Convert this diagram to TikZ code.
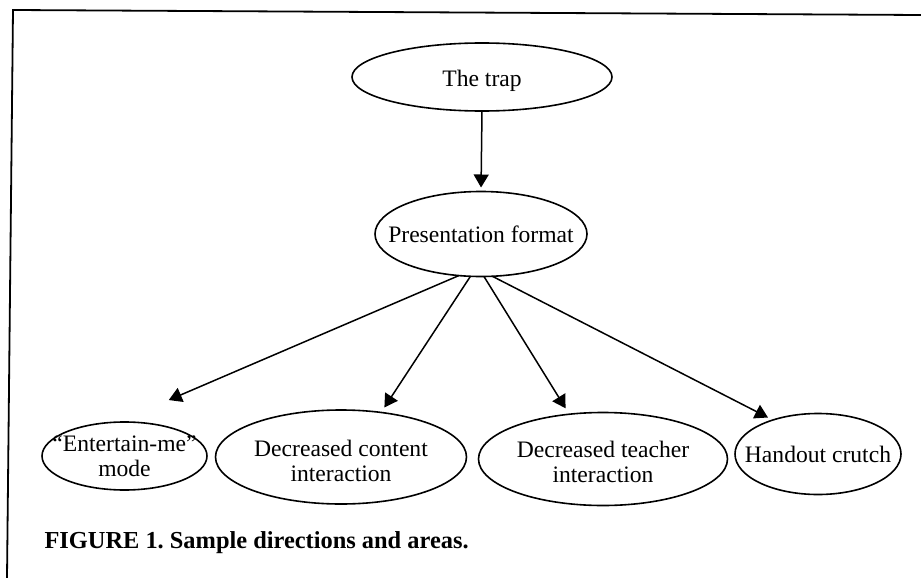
\documentclass[tikz,border=0pt]{standalone}
\usepackage{fontspec}
\setmainfont{Liberation Serif}
\usetikzlibrary{shapes.geometric,arrows.meta}

% text of an oval: last baseline #1 below the centre, no size of its own
\newcommand{\ovaltext}[2]{\makebox[0pt]{\raisebox{-#1}[0pt][0pt]{\begin{tabular}[b]{@{}c@{}}#2\end{tabular}}}}

\tikzset{
  oval/.style={ellipse, draw, line width=1.6pt, inner sep=0pt, outer sep=0pt,
    font=\fontsize{23.6}{24.5}\selectfont},
  link/.style={-{Triangle[length=13pt,width=15pt]}, line width=1.5pt}
}

\begin{document}
\begin{tikzpicture}[x=1pt, y=-1pt]

  \useasboundingbox (0,0) rectangle (921,578);

  % frame round the figure
  \draw [line width=1.8pt] (7,578) -- (13,10) -- (921,15);

  \node [oval, minimum width=260pt, minimum height=68pt] (trap) at (482,77) {\ovaltext{10pt}{The trap}};
  \node [oval, minimum width=212pt, minimum height=85pt] (pres) at (481,234) {\ovaltext{8pt}{Presentation format}};

  \node [oval, minimum width=165pt, minimum height=68pt] (ent) at (124.5,456) {\ovaltext{20pt}{``Entertain-me''\\mode}};
  \node [oval, minimum width=251pt, minimum height=94pt] (ctn) at (341,457) {\ovaltext{24pt}{Decreased content\\interaction}};
  \node [oval, minimum width=249pt, minimum height=93pt] (tch) at (603,459) {\ovaltext{23pt}{Decreased teacher\\interaction}};
  \node [oval, minimum width=166pt, minimum height=81pt] (hnd) at (818,454) {\ovaltext{8pt}{Handout crutch}};

  % arrows
  \draw [link, shorten >=4pt] (trap.south) -- (pres.north);
  \draw [link, shorten >=56pt] (pres.242) -- (ent.102);
  \draw [link, shorten >=6pt] (pres.256) -- (ctn.48);
  \draw [link, shorten >=7pt] (pres.274) -- (tch.127);
  \draw [link, shorten >=5.5pt] (pres.285) -- (hnd.143);

  \node [anchor=base west, font=\fontsize{24.4}{29}\selectfont\bfseries] (caption) at (41,548) {\frenchspacing FIGURE 1. Sample directions and areas.};

\end{tikzpicture}
\end{document}
